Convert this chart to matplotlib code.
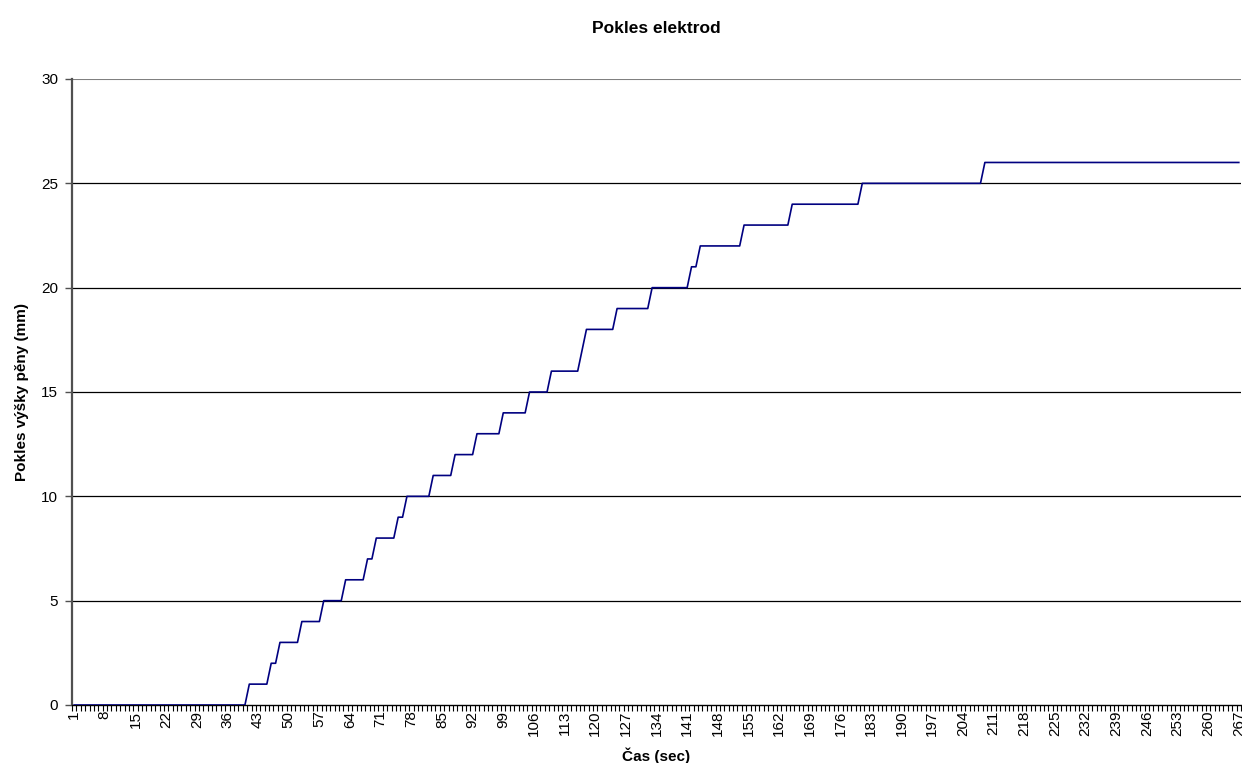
import numpy as np
import matplotlib.pyplot as plt
from matplotlib.ticker import MultipleLocator, FixedLocator

plt.rcParams["font.family"] = ["Liberation Sans", "DejaVu Sans"]

# time axis categories (seconds 1..267)
n_points = 267
# drop level and first second at which it is reached
step_start = [1, 41, 46, 48, 53, 58, 63, 68, 70, 75, 77, 83, 88, 93, 99,
              105, 110, 117, 118, 125, 133, 142, 144, 154, 165, 181, 209]
step_level = [0, 1, 2, 3, 4, 5, 6, 7, 8, 9, 10, 11, 12, 13, 14,
              15, 16, 17, 18, 19, 20, 21, 22, 23, 24, 25, 26]

x = np.arange(1, n_points + 1)
lengths = np.diff(step_start + [n_points + 1])
y = np.repeat(step_level, lengths)

fig = plt.figure(figsize=(12.42, 7.63), dpi=100)
ax = fig.add_axes([72 / 1242, 1 - 705 / 763, 1169 / 1242, 626 / 763])

ax.plot(x, y, color="#000080", lw=1.2, zorder=3)

ax.set_xlim(0.5, n_points + 0.5)
ax.set_ylim(0, 30)

# horizontal gridlines
for v in range(5, 30, 5):
    ax.axhline(v, color="black", lw=0.9, zorder=1)
ax.axhline(30, color="#808080", lw=1.5, zorder=1)

ax.spines["top"].set_visible(False)
ax.spines["right"].set_visible(False)
ax.spines["left"].set_color("#505050")
ax.spines["left"].set_linewidth(1.6)
ax.spines["bottom"].set_color("black")
ax.spines["bottom"].set_linewidth(1.0)

ax.yaxis.set_major_locator(MultipleLocator(5))
ax.tick_params(axis="y", direction="out", length=5, width=1, labelsize=11,
               color="#505050", pad=5)

xt = list(range(1, n_points + 1, 7))
ax.set_xticks(xt)
ax.set_xticklabels([str(v) for v in xt], rotation=90)
ax.tick_params(axis="x", which="major", length=0, labelsize=11, pad=4)
ax.xaxis.set_minor_locator(FixedLocator(np.arange(0.5, n_points + 1, 1)))
ax.tick_params(axis="x", which="minor", direction="out", length=4, width=0.8,
               color="black")

ax.set_title("Pokles elektrod", fontsize=12.5, fontweight="bold", pad=33)
ax.set_xlabel("Čas (sec)", fontsize=11, fontweight="bold", labelpad=8)
ax.set_ylabel("Pokles výšky pěny (mm)", fontsize=11, fontweight="bold",
              labelpad=9)

fig.savefig("out.png", dpi=100)
